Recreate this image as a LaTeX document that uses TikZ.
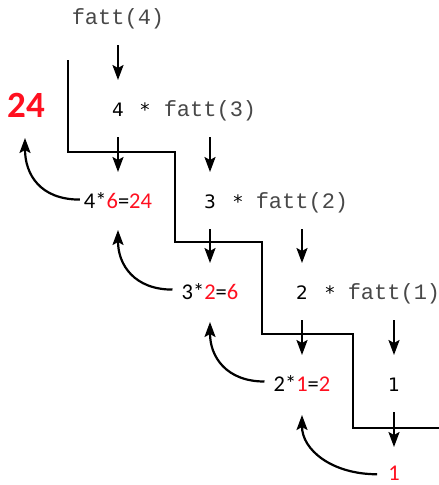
\documentclass[tikz,border=0pt]{standalone}
\usepackage{fontspec}
\setmainfont{Carlito}
\setmonofont{Liberation Mono}
\newfontfamily\dejavu{DejaVu Sans}
\usetikzlibrary{arrows.meta,calc}
\definecolor{myred}{RGB}{255,16,32}
\definecolor{mygray}{RGB}{72,72,72}
\newcommand{\rd}[1]{\textcolor{myred}{#1}}
\tikzset{
  every node/.style={inner sep=0pt, anchor=base},
  mono/.style={font=\fontsize{22}{24}\selectfont\ttfamily, text=mygray},
  lab/.style={font=\fontsize{18.5}{20}\selectfont\dejavu},
  res/.style={font=\fontsize{22.5}{24}\selectfont},
  big/.style={font=\fontsize{37}{40}\selectfont\bfseries, text=myred},
  arr/.style={line width=2.2pt, -{Stealth[length=15pt,width=11pt,inset=3pt]}},
  stair/.style={line width=2.2pt, line join=miter},
}
\begin{document}
\begin{tikzpicture}[x=1pt,y=-1pt]
\useasboundingbox (0,0) rectangle (439,485);
% nodes (base line = row centre + 6.5)
\node[mono] (f4) at (118,24.5) {fatt(4)};
\node[lab] (n4) at (118,116.5) {4};
\node[lab] (s4) at (145,116.5) {*};
\node[mono] (f3) at (210,116.5) {fatt(3)};
\node[res] (r4) at (118,208.5) {4*\rd{6}=\rd{24}};
\node[lab] (n3) at (210,208.5) {3};
\node[lab] (s3) at (238,208.5) {*};
\node[mono] (f2) at (302,208.5) {fatt(2)};
\node[res] (r3) at (210,299.5) {3*\rd{2}=\rd{6}};
\node[lab] (n2) at (302,299.5) {2};
\node[lab] (s2) at (330,299.5) {*};
\node[mono] (f1) at (394,299.5) {fatt(1)};
\node[res] (r2) at (302,391.5) {2*\rd{1}=\rd{2}};
\node[lab] (n1) at (394,391.5) {1};
\node[res, text=myred] (r1) at (394,480.5) {1};
\node[big] (b) at (26,117) {24};
% staircase
\draw[stair] (68,60) -- (68,152) -- (175,152) -- (175,242) -- (262,242)
  -- (262,334) -- (353,334) -- (353,428) -- (439,428);
% vertical arrows
\foreach \a/\b in {f4/n4, n4/r4, f3/n3, n3/r3, f2/n2, n2/r2, f1/n1}
  \draw[arr] ($(\a.base)+(0,20.5)$) -- ($(\b.base)+(0,-36.5)$);
\draw[arr] ($(n1.base)+(0,20.5)$) -- ($(r1.base)+(0,-33.5)$);
% return arrows
\draw[arr] ($(r1.west)+(-11,1)$) .. controls +(-45,0) and +(0,35) .. ($(r2.base)+(0,23.5)$);
\draw[arr] ($(r2.west)+(-9,-2)$) .. controls +(-38,0) and +(0,35) .. ($(r3.base)+(0,22.5)$);
\draw[arr] ($(r3.west)+(-9,-2)$) .. controls +(-38,0) and +(0,35) .. ($(r4.base)+(0,21.5)$);
\draw[arr] ($(r4.west)+(-4,-1)$) .. controls +(-40,0) and +(0,36) .. ($(b.base)+(-1,21)$);
\end{tikzpicture}
\end{document}
